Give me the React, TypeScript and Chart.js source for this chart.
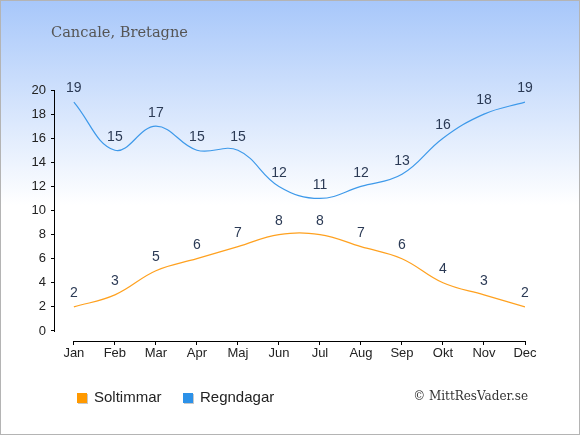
import React, { useEffect, useRef } from 'react';
import Chart from 'chart.js/auto';

const months = ['Jan', 'Feb', 'Mar', 'Apr', 'Maj', 'Jun', 'Jul', 'Aug', 'Sep', 'Okt', 'Nov', 'Dec'];
const soltimmar = [2, 3, 5, 6, 7, 8, 8, 7, 6, 4, 3, 2];
const regndagar = [19, 15, 17, 15, 15, 12, 11, 12, 13, 16, 18, 19];
const yTicks = [0, 2, 4, 6, 8, 10, 12, 14, 16, 18, 20];

const SUN = '#ffa11f';
const RAIN = '#3d99ea';

const decorPlugin = {
  id: 'decor',
  beforeDraw(chart: any) {
    const { ctx, width, height } = chart;
    ctx.save();
    const g = ctx.createLinearGradient(0, 0, 0, 205);
    g.addColorStop(0, '#a7c7fa');
    g.addColorStop(1, '#ffffff');
    ctx.fillStyle = '#ffffff';
    ctx.fillRect(0, 0, width, height);
    ctx.fillStyle = g;
    ctx.fillRect(0, 0, width, 205);
    ctx.restore();
  },
  afterDraw(chart: any) {
    const { ctx, width, height, scales } = chart;
    const x = scales.x;
    const y = scales.y;
    ctx.save();
    // axis lines
    ctx.strokeStyle = '#000';
    ctx.lineWidth = 1;
    ctx.beginPath();
    const ax = Math.round(chart.chartArea.left) - 0.5;
    ctx.moveTo(ax, Math.round(y.getPixelForValue(20)));
    ctx.lineTo(ax, Math.round(y.getPixelForValue(0)) + 1);
    const ay = Math.round(chart.chartArea.bottom) + 0.5;
    ctx.moveTo(Math.round(x.getPixelForValue(0)), ay);
    ctx.lineTo(Math.round(x.getPixelForValue(months.length - 1)) + 1, ay);
    ctx.stroke();

    // title
    ctx.fillStyle = '#555555';
    ctx.font = '14.6px "DejaVu Serif"';
    ctx.textBaseline = 'middle';
    ctx.textAlign = 'left';
    ctx.fillText('Cancale, Bretagne', 51, 33);

    // legend
    const items = [
      { label: 'Soltimmar', color: '#ff9900', x: 77 },
      { label: 'Regndagar', color: '#2c91e8', x: 183 },
    ];
    ctx.font = '15px "Liberation Sans"';
    items.forEach((it) => {
      ctx.fillStyle = '#c8c8c8';
      ctx.fillRect(it.x + 1, 394, 10, 10);
      ctx.fillStyle = it.color;
      ctx.fillRect(it.x, 393, 10, 10);
      ctx.fillStyle = '#222222';
      ctx.fillText(it.label, it.x + 17, 398);
    });

    // copyright
    ctx.font = '12px "DejaVu Serif"';
    ctx.fillStyle = '#333333';
    ctx.textAlign = 'right';
    ctx.fillText('© MittResVader.se', 528, 397);

    // border
    ctx.strokeStyle = '#b4b4b4';
    ctx.strokeRect(0.5, 0.5, width - 1, height - 1);
    ctx.restore();
  },
  afterDatasetsDraw(chart: any) {
    const { ctx } = chart;
    ctx.save();
    ctx.font = '14px "Liberation Sans"';
    ctx.fillStyle = '#2b3a55';
    ctx.textAlign = 'center';
    ctx.textBaseline = 'middle';
    chart.data.datasets.forEach((ds: any, di: number) => {
      const meta = chart.getDatasetMeta(di);
      meta.data.forEach((pt: any, i: number) => {
        ctx.fillText(String(ds.data[i].y), pt.x, pt.y - 13.5);
      });
    });
    ctx.restore();
  },
};

const App: React.FC = () => {
  const canvasRef = useRef<HTMLCanvasElement>(null);

  useEffect(() => {
    if (!canvasRef.current) return;
    const chart = new Chart(canvasRef.current, {
      type: 'line',
      data: {
        datasets: [
          {
            label: 'Soltimmar',
            data: soltimmar.map((v, i) => ({ x: i, y: v })),
            borderColor: SUN,
            borderWidth: 1.2,
            pointRadius: 0,
            tension: 0.4,
            fill: false,
          },
          {
            label: 'Regndagar',
            data: regndagar.map((v, i) => ({ x: i, y: v })),
            borderColor: RAIN,
            borderWidth: 1.2,
            pointRadius: 0,
            tension: 0.4,
            fill: false,
          },
        ],
      },
      options: {
        responsive: false,
        maintainAspectRatio: false,
        animation: false,
        layout: { padding: { top: 90, right: 55, left: 0, bottom: 0 } },
        plugins: {
          legend: { display: false },
          tooltip: { enabled: false },
        },
        scales: {
          x: {
            type: 'linear',
            min: -0.46,
            max: months.length - 1,
            afterBuildTicks: (axis: any) => {
              axis.ticks = months.map((_, i) => ({ value: i }));
            },
            afterFit: (axis: any) => {
              axis.height = 94;
            },
            ticks: {
              autoSkip: false,
              maxRotation: 0,
              padding: 1,
              color: '#222222',
              font: { family: 'Liberation Sans', size: 13 },
              callback: (v: any) => months[v as number] ?? '',
            },
            grid: { drawOnChartArea: false, drawTicks: true, tickLength: 4, color: '#000' },
            border: { display: false },
          },
          y: {
            type: 'linear',
            min: -0.83,
            max: 20,
            afterBuildTicks: (axis: any) => {
              axis.ticks = yTicks.map((v) => ({ value: v }));
            },
            afterFit: (axis: any) => {
              axis.width = 55;
            },
            ticks: {
              padding: 5,
              color: '#222222',
              font: { family: 'Liberation Sans', size: 13 },
            },
            grid: { drawOnChartArea: false, drawTicks: true, tickLength: 4, color: '#000' },
            border: { display: false },
          },
        },
      },
      plugins: [decorPlugin],
    });
    return () => chart.destroy();
  }, []);

  return (
    <div style={{ position: 'fixed', left: 0, top: 0, width: 580, height: 435 }}>
      <canvas ref={canvasRef} width={580} height={435} style={{ width: 580, height: 435 }} />
    </div>
  );
};

export default App;
